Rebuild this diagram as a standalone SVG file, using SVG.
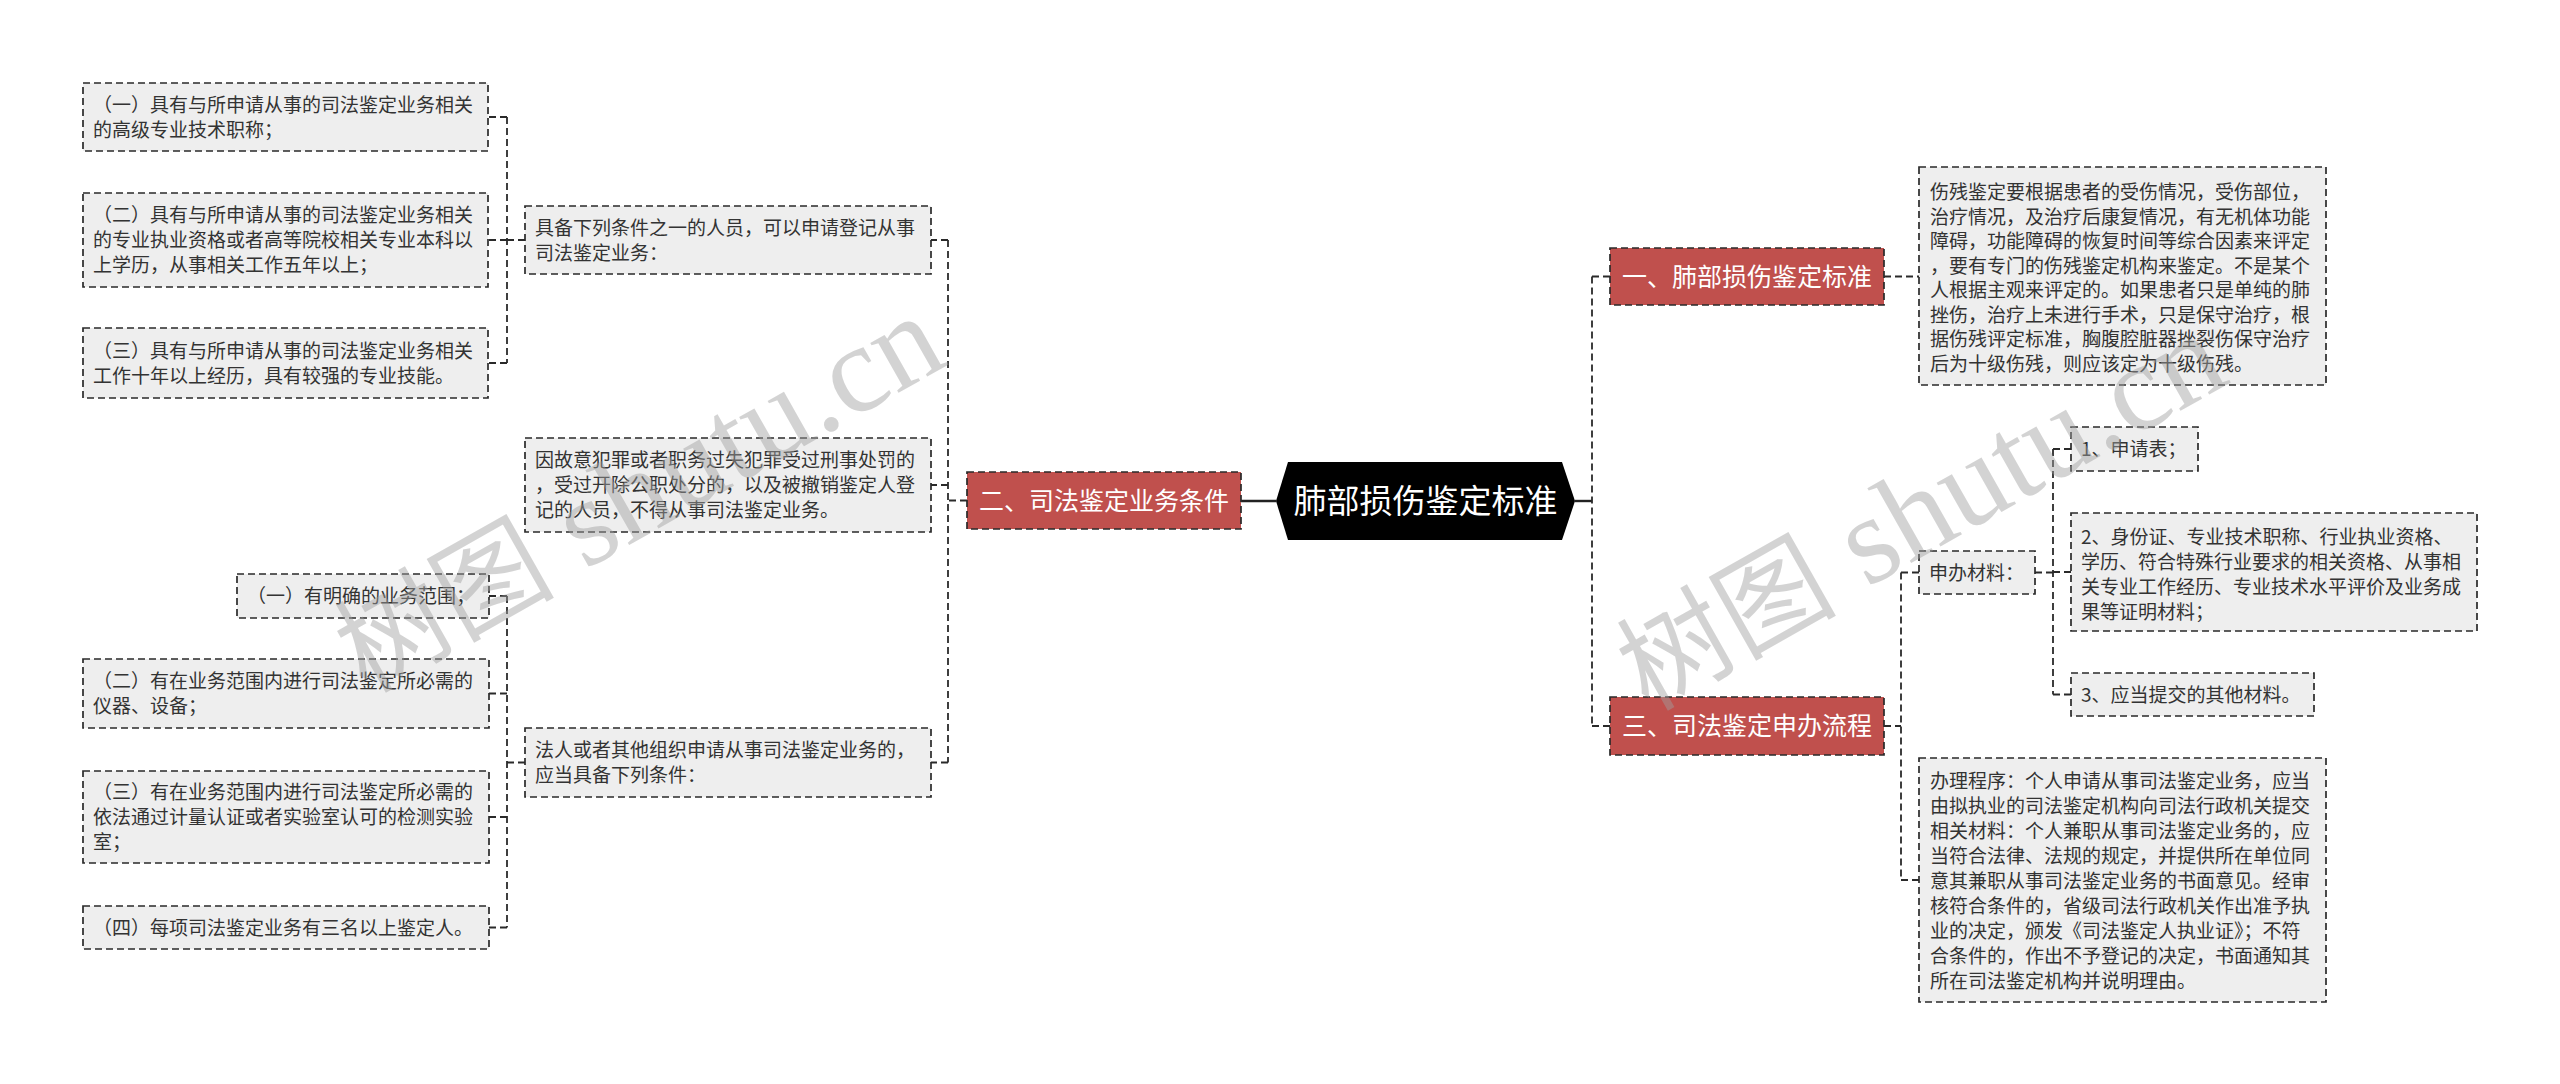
<svg xmlns="http://www.w3.org/2000/svg" width="2560" height="1084" viewBox="0 0 2560 1084">
<style>
.leaf rect{fill:#eeeeee;stroke:#2a2a2a;stroke-width:1.7;stroke-dasharray:7 4}
.leaf text{font-family:"Noto Sans CJK SC","Noto Sans",sans-serif;font-size:19px;fill:#333}
.main rect{fill:#c0504d;stroke:#2a2a2a;stroke-width:1.7;stroke-dasharray:7 4}
.main text{font-family:"Noto Sans CJK SC","Noto Sans",sans-serif;font-size:25px;fill:#fff;text-anchor:middle}
.root text{font-family:"Noto Sans CJK SC","Noto Sans",sans-serif;font-size:33px;fill:#fff;text-anchor:middle}
.conn path{fill:none;stroke:#2a2a2a;stroke-width:1.8;stroke-dasharray:7 4}
.conn path.solid{stroke-dasharray:none;stroke-width:2.4;stroke:#222}
.wm{fill:#a0a0a0;opacity:0.45}
.wm .cj{font-family:"Noto Sans CJK SC",sans-serif;font-size:110px}
.wm .la{font-family:"Liberation Serif",serif;font-size:125px}
</style>
<rect x="0" y="0" width="2560" height="1084" fill="#fff"/>

<g id="connectors" class="conn">
  <path class="solid" d="M1276 501 H1241"/>
  <path d="M967 500.5 H948 M948 240 V762.5 M948 240 H931 M948 485 H931 M948 762.5 H931"/>
  <path d="M525 240 H507 M507 117 V363 M507 117 H488 M507 240 H488 M507 363 H488"/>
  <path d="M525 762.5 H507 M507 596 V927.5 M507 596 H489 M507 693.5 H489 M507 817 H489 M507 927.5 H489"/>
  <path class="solid" d="M1575 501 H1592"/>
  <path d="M1592 276.5 V726 M1592 276.5 H1610 M1592 726 H1610"/>
  <path d="M1884 276.5 H1919"/>
  <path d="M1884 726 H1901 M1901 572.5 V880 M1901 572.5 H1919 M1901 880 H1919"/>
  <path d="M2035 572.5 H2053 M2053 449 V694.5 M2053 449 H2071 M2053 572 H2071 M2053 694.5 H2071"/>
</g>

<g id="root" class="root">
  <polygon points="1288,462 1562,462 1575,501 1562,540 1288,540 1276,501" fill="#000"/>
  <text x="1425.5" y="513">肺部损伤鉴定标准</text>
</g>

<g id="main1" class="main">
  <rect x="1610" y="248" width="274" height="57"/>
  <text x="1747" y="285.5">一、肺部损伤鉴定标准</text>
</g>
<g id="main2" class="main">
  <rect x="967" y="472" width="274" height="57"/>
  <text x="1104" y="509.5">二、司法鉴定业务条件</text>
</g>
<g id="main3" class="main">
  <rect x="1610" y="697" width="274" height="58"/>
  <text x="1747" y="735">三、司法鉴定申办流程</text>
</g>

<g id="a1" class="leaf">
  <rect x="83" y="83" width="405" height="68"/>
  <text><tspan x="93" y="111.5">（一）具有与所申请从事的司法鉴定业务相关</tspan><tspan x="93" y="136.5">的高级专业技术职称；</tspan></text>
</g>
<g id="a2" class="leaf">
  <rect x="83" y="193" width="405" height="94"/>
  <text><tspan x="93" y="222">（二）具有与所申请从事的司法鉴定业务相关</tspan><tspan x="93" y="247">的专业执业资格或者高等院校相关专业本科以</tspan><tspan x="93" y="272">上学历，从事相关工作五年以上；</tspan></text>
</g>
<g id="a3" class="leaf">
  <rect x="83" y="328" width="405" height="70"/>
  <text><tspan x="93" y="357.5">（三）具有与所申请从事的司法鉴定业务相关</tspan><tspan x="93" y="382.5">工作十年以上经历，具有较强的专业技能。</tspan></text>
</g>

<g id="b1" class="leaf">
  <rect x="525" y="206" width="406" height="68"/>
  <text><tspan x="535" y="234.5">具备下列条件之一的人员，可以申请登记从事</tspan><tspan x="535" y="259.5">司法鉴定业务：</tspan></text>
</g>
<g id="b2" class="leaf">
  <rect x="525" y="438" width="406" height="94"/>
  <text><tspan x="535" y="467">因故意犯罪或者职务过失犯罪受过刑事处罚的</tspan><tspan x="535" y="492">，受过开除公职处分的，以及被撤销鉴定人登</tspan><tspan x="535" y="517">记的人员，不得从事司法鉴定业务。</tspan></text>
</g>
<g id="b3" class="leaf">
  <rect x="525" y="728" width="406" height="69"/>
  <text><tspan x="535" y="757">法人或者其他组织申请从事司法鉴定业务的，</tspan><tspan x="535" y="782">应当具备下列条件：</tspan></text>
</g>

<g id="d1" class="leaf">
  <rect x="237" y="574" width="252" height="44"/>
  <text x="247" y="603">（一）有明确的业务范围；</text>
</g>
<g id="d2" class="leaf">
  <rect x="83" y="659" width="406" height="69"/>
  <text><tspan x="93" y="688">（二）有在业务范围内进行司法鉴定所必需的</tspan><tspan x="93" y="713">仪器、设备；</tspan></text>
</g>
<g id="d3" class="leaf">
  <rect x="83" y="771" width="406" height="92"/>
  <text><tspan x="93" y="799">（三）有在业务范围内进行司法鉴定所必需的</tspan><tspan x="93" y="824">依法通过计量认证或者实验室认可的检测实验</tspan><tspan x="93" y="849">室；</tspan></text>
</g>
<g id="d4" class="leaf">
  <rect x="83" y="906" width="406" height="43"/>
  <text x="93" y="934.5">（四）每项司法鉴定业务有三名以上鉴定人。</text>
</g>

<g id="c1" class="leaf">
  <rect x="1919" y="167" width="407" height="218"/>
  <text><tspan x="1930" y="199">伤残鉴定要根据患者的受伤情况，受伤部位，</tspan><tspan x="1930" y="223.5">治疗情况，及治疗后康复情况，有无机体功能</tspan><tspan x="1930" y="248">障碍，功能障碍的恢复时间等综合因素来评定</tspan><tspan x="1930" y="272.5">，要有专门的伤残鉴定机构来鉴定。不是某个</tspan><tspan x="1930" y="297">人根据主观来评定的。如果患者只是单纯的肺</tspan><tspan x="1930" y="321.5">挫伤，治疗上未进行手术，只是保守治疗，根</tspan><tspan x="1930" y="346">据伤残评定标准，胸腹腔脏器挫裂伤保守治疗</tspan><tspan x="1930" y="370.5">后为十级伤残，则应该定为十级伤残。</tspan></text>
</g>

<g id="e" class="leaf">
  <rect x="1919" y="551" width="116" height="43"/>
  <text x="1929" y="579.5">申办材料：</text>
</g>
<g id="f1" class="leaf">
  <rect x="2071" y="427" width="127" height="44"/>
  <text x="2081" y="456">1、申请表；</text>
</g>
<g id="f2" class="leaf">
  <rect x="2071" y="513" width="406" height="118"/>
  <text><tspan x="2081" y="543.5">2、身份证、专业技术职称、行业执业资格、</tspan><tspan x="2081" y="568.5">学历、符合特殊行业要求的相关资格、从事相</tspan><tspan x="2081" y="593.5">关专业工作经历、专业技术水平评价及业务成</tspan><tspan x="2081" y="618.5">果等证明材料；</tspan></text>
</g>
<g id="f3" class="leaf">
  <rect x="2071" y="673" width="243" height="43"/>
  <text x="2081" y="701.5">3、应当提交的其他材料。</text>
</g>

<g id="c3" class="leaf">
  <rect x="1919" y="758" width="407" height="244"/>
  <text><tspan x="1930" y="788">办理程序：个人申请从事司法鉴定业务，应当</tspan><tspan x="1930" y="813">由拟执业的司法鉴定机构向司法行政机关提交</tspan><tspan x="1930" y="838">相关材料：个人兼职从事司法鉴定业务的，应</tspan><tspan x="1930" y="863">当符合法律、法规的规定，并提供所在单位同</tspan><tspan x="1930" y="888">意其兼职从事司法鉴定业务的书面意见。经审</tspan><tspan x="1930" y="913">核符合条件的，省级司法行政机关作出准予执</tspan><tspan x="1930" y="938">业的决定，颁发《司法鉴定人执业证》；不符</tspan><tspan x="1930" y="963">合条件的，作出不予登记的决定，书面通知其</tspan><tspan x="1930" y="988">所在司法鉴定机构并说明理由。</tspan></text>
</g>

<text class="wm" transform="translate(366,694) rotate(-29.5)"><tspan class="cj">树图</tspan><tspan class="la"> shutu.cn</tspan></text>
<text class="wm" transform="translate(1648,712) rotate(-29.5)"><tspan class="cj">树图</tspan><tspan class="la"> shutu.cn</tspan></text>
</svg>
